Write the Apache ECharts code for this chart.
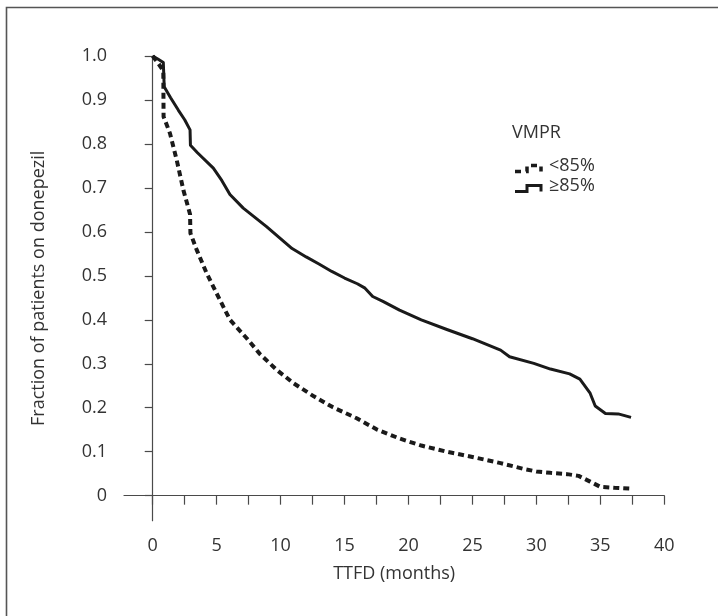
<!DOCTYPE html>
<html>
<head>
<meta charset="utf-8">
<script src="https://cdn.jsdelivr.net/npm/echarts@6/dist/echarts.min.js"></script>
<style>
html,body{margin:0;padding:0;background:#fff;}
#chart{width:718px;height:616px;}
</style>
</head>
<body>
<div id="chart"></div>
<script>
// Data (time in months, fraction on donepezil)
var lowTimes = [0, 0.44, 0.7, 0.83, 0.85, 0.96, 1.35, 1.88, 2.4, 2.78, 2.92, 2.95, 3.44, 4.22, 5.0, 6.04, 7.35, 8.39, 9.7, 11.0, 12.6, 14.1, 15.95, 17.5, 19.3, 21, 23, 25, 27.2, 29.0, 30.0, 31.1, 32.4, 33.3, 34.2, 35.0, 36.1, 37.3];
var lowValues = [1.0, 0.983, 0.972, 0.965, 0.862, 0.854, 0.824, 0.763, 0.695, 0.655, 0.64, 0.597, 0.559, 0.506, 0.46, 0.4, 0.358, 0.322, 0.286, 0.256, 0.226, 0.201, 0.176, 0.151, 0.13, 0.114, 0.1, 0.088, 0.074, 0.061, 0.055, 0.052, 0.049, 0.045, 0.032, 0.02, 0.018, 0.016];
var highTimes = [0, 0.4, 0.83, 0.9, 1.0, 1.4, 2.0, 2.5, 2.92, 2.95, 3.5, 4.74, 5.4, 6.04, 7.08, 8.9, 10.9, 12, 13, 14, 15, 16, 16.6, 17.2, 18, 19.3, 21, 23, 25, 27.2, 27.9, 29.8, 31.1, 32.6, 33.4, 34.2, 34.6, 35.4, 36.4, 37.4];
var highValues = [1.0, 0.993, 0.985, 0.93, 0.925, 0.905, 0.877, 0.855, 0.832, 0.797, 0.78, 0.745, 0.717, 0.685, 0.654, 0.612, 0.562, 0.543, 0.527, 0.51, 0.495, 0.482, 0.472, 0.453, 0.442, 0.422, 0.4, 0.378, 0.357, 0.331, 0.316, 0.301, 0.288, 0.277, 0.265, 0.233, 0.204, 0.187, 0.186, 0.178];
var xTicks = [0, 2.5, 5, 7.5, 10, 12.5, 15, 17.5, 20, 22.5, 25, 27.5, 30, 32.5, 35, 37.5, 40];
var xLabels = [0, 5, 10, 15, 20, 25, 30, 35, 40];
var yTicks = [0, 0.1, 0.2, 0.3, 0.4, 0.5, 0.6, 0.7, 0.8, 0.9, 1.0];
var seriesNames = ['<85%', '≥85%'];
var legendTitle = 'VMPR';
var xTitle = 'TTFD (months)';
var yTitle = 'Fraction of patients on donepezil';

function zip(a, b) { return a.map(function (t, i) { return [t, b[i]]; }); }

var FONT = '"Open Sans", sans-serif';
var TXT = '#333';
var AX = '#4a4a4a';

var chart = echarts.init(document.getElementById('chart'), null, {renderer: 'canvas'});
chart.setOption({
  animation: false,
  backgroundColor: '#fff',
  grid: {left: 124, right: 53.7, top: 56, bottom: 95.3, containLabel: false},
  xAxis: {
    type: 'value', min: -2.244, max: 40,
    axisLine: {show: true, lineStyle: {color: AX, width: 1.2}},
    axisTick: {show: true, length: 9, lineStyle: {color: AX, width: 1.2}, customValues: xTicks},
    axisLabel: {customValues: xLabels, margin: 16, color: TXT, fontSize: 18, fontFamily: FONT},
    splitLine: {show: false},
    name: xTitle, nameLocation: 'middle', nameGap: 44,
    nameTextStyle: {color: TXT, fontSize: 18, fontFamily: FONT, verticalAlign: 'top'}
  },
  yAxis: {
    type: 'value', min: -0.0569, max: 1.0,
    axisLine: {show: true, lineStyle: {color: AX, width: 1.2}},
    axisTick: {show: true, length: 8, lineStyle: {color: AX, width: 1.2}, customValues: yTicks},
    axisLabel: {customValues: yTicks, margin: 17, color: TXT, fontSize: 18, fontFamily: FONT,
      formatter: function (v) { return Math.abs(v) < 1e-9 ? '0' : v.toFixed(1); }},
    splitLine: {show: false},
    name: yTitle, nameLocation: 'middle', nameGap: 76,
    nameTextStyle: {color: TXT, fontSize: 18, fontFamily: FONT}
  },
  series: [
    {name: seriesNames[0], type: 'line', data: zip(lowTimes, lowValues), symbol: 'none', smooth: false,
      lineStyle: {color: '#1a1a1a', width: 4, type: [6, 4], cap: 'butt'}},
    {name: seriesNames[1], type: 'line', data: zip(highTimes, highValues), symbol: 'none', smooth: false,
      lineStyle: {color: '#1a1a1a', width: 3, type: 'solid', join: 'round'}}
  ],
  graphic: [
    {type: 'rect', shape: {x: 6.5, y: 7.5, width: 900, height: 900}, style: {fill: 'none', stroke: '#555', lineWidth: 1.6}, silent: true},
    {type: 'text', left: 512, top: 124, style: {text: legendTitle, fill: TXT, font: '18px ' + FONT}},
    {type: 'polyline', shape: {points: [[515, 171.5], [527, 171.5], [527, 165.5], [541, 165.5], [541, 171.5]]},
      style: {stroke: '#1a1a1a', lineWidth: 3.5, lineDash: [6, 5], fill: 'none'}},
    {type: 'text', left: 549, top: 157, style: {text: seriesNames[0], fill: TXT, font: '18px ' + FONT}},
    {type: 'polyline', shape: {points: [[515, 191.5], [527, 191.5], [527, 185.5], [541, 185.5], [541, 191.5]]},
      style: {stroke: '#1a1a1a', lineWidth: 3, fill: 'none'}},
    {type: 'text', left: 549, top: 177, style: {text: seriesNames[1], fill: TXT, font: '18px ' + FONT}}
  ]
});
</script>
</body>
</html>
